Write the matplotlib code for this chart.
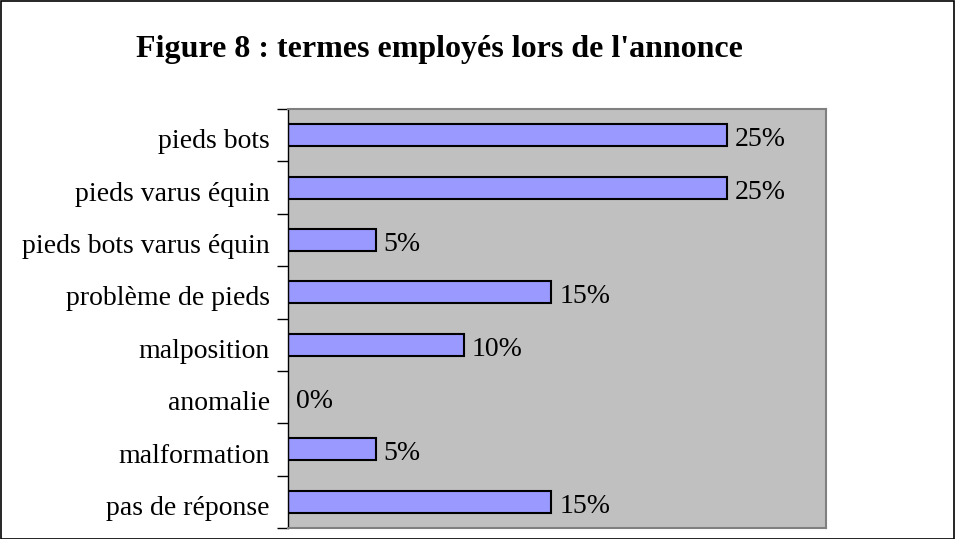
import matplotlib
matplotlib.use("Agg")
import matplotlib.pyplot as plt
from matplotlib.patches import Rectangle
import numpy as np

categories = ["pieds bots", "pieds varus équin", "pieds bots varus équin",
              "problème de pieds", "malposition", "anomalie", "malformation",
              "pas de réponse"]
values = [25, 25, 5, 15, 10, 0, 5, 15]
title = "Figure 8 : termes employés lors de l'annonce"

plt.rcParams['font.family'] = ['Liberation Serif', 'DejaVu Serif']

W, H = 955, 539
fig = plt.figure(figsize=(W/100, H/100), dpi=100)
fig.patch.set_facecolor('white')
fig.add_artist(Rectangle((0.5/W, 0.5/H), 1 - 1.5/W, 1 - 1.5/H, transform=fig.transFigure,
                         fill=False, edgecolor='black', linewidth=1.2))

left, right, top, bottom = 288, 826, 109, 528
ax = fig.add_axes([left/W, 1 - bottom/H, (right-left)/W, (bottom-top)/H])
ax.set_facecolor('#C0C0C0')

n = len(categories)
y = np.arange(n)[::-1]
ax.barh(y, values, height=0.42, color='#9999FF', edgecolor='black', linewidth=1.5)
for yi, v in zip(y, values):
    ax.text(v + 0.45, yi - 0.21, f"{v}%", va='baseline', ha='left', fontsize=20)

ax.set_xlim(0, 30.65)
ax.set_ylim(-0.5, n - 0.5)
ax.set_xticks([])
ax.set_yticks(y - 0.25)
ax.set_yticklabels(categories, fontsize=20)
for lab in ax.get_yticklabels():
    lab.set_verticalalignment('baseline')
ax.tick_params(axis='y', which='major', length=0, pad=13)
ax.set_yticks(np.arange(-0.5, n, 1.0), minor=True)
ax.tick_params(axis='y', which='minor', length=8, width=1, color='black')

for s in ['top', 'right', 'bottom']:
    ax.spines[s].set_color('#808080')
    ax.spines[s].set_linewidth(1.5)
ax.spines['left'].set_color('black')
ax.spines['left'].set_linewidth(1)

fig.text(439/W, 1 - 49/H, title, ha='center', va='center', fontsize=23, fontweight='bold')

fig.savefig("out.png", dpi=100)
